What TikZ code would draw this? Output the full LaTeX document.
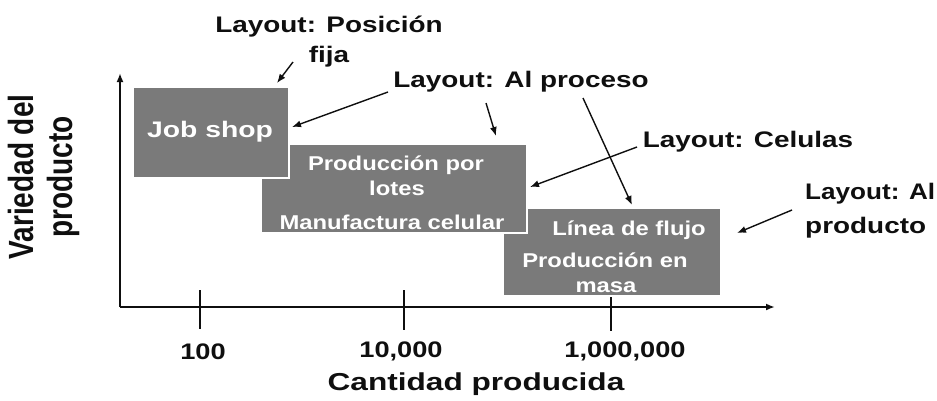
\documentclass[tikz,border=0pt]{standalone}
\usepackage{fontspec}
\setmainfont{Liberation Sans}
\usetikzlibrary{arrows.meta}
\newcommand{\hx}[2]{\scalebox{#1}[1]{#2}}
\definecolor{boxgray}{RGB}{122,122,122}
\definecolor{ink}{RGB}{15,15,15}
\begin{document}
\begin{tikzpicture}[x=1pt,y=-1pt,
  box/.style={draw=white, line width=1.5pt, fill=boxgray, inner sep=0pt},
  btxt/.style={text=white, inner sep=0pt, anchor=base, font=\fontsize{20}{24}\selectfont\bfseries},
  bigtxt/.style={text=white, inner sep=0pt, anchor=base, font=\fontsize{22.5}{26}\selectfont\bfseries},
  lbl/.style={text=ink, inner sep=0pt, anchor=base, font=\fontsize{22.5}{30}\selectfont\bfseries},
  ticklbl/.style={text=ink, inner sep=0pt, anchor=base, font=\fontsize{22.5}{26}\selectfont\bfseries},
  axis/.style={draw=ink, line width=1.8pt, -{Latex[length=9pt,width=7pt]}},
  tick/.style={draw=ink, line width=1.5pt},
  conn/.style={draw=ink, line width=1.4pt, -{Latex[length=9pt,width=7pt]}}]
\useasboundingbox (0,0) rectangle (937,400);

% axes
\coordinate (origin) at (120,307);
\coordinate (xend) at (775,307);
\coordinate (yend) at (120,73);
\coordinate (t1a) at (200,290); \coordinate (t1b) at (200,329);
\coordinate (t2a) at (404,290); \coordinate (t2b) at (404,330);
\coordinate (t3a) at (611,290); \coordinate (t3b) at (611,331);
\draw[tick] (t1a) -- (t1b);
\draw[tick] (t2a) -- (t2b);
\draw[tick] (t3a) -- (t3b);
\draw[axis] (origin) -- (xend);
\draw[axis] (origin) -- (yend);

% boxes
\node[box, minimum width=218pt, minimum height=88pt] (linea) at (612,252) {};
\node[box, minimum width=266pt, minimum height=89pt] (lotes) at (394,188.5) {};
\node[box, minimum width=156pt, minimum height=91pt] (job) at (211,132.5) {};

% box texts
\node[bigtxt] (tjob) at (210,137) {\hx{1.26}{Job shop}};
\node[btxt] (tprod1) at (396,170) {\hx{1.19}{Producción por}};
\node[btxt] (tlotes) at (397,195) {\hx{1.19}{lotes}};
\node[btxt] (tmanu) at (392,229) {\hx{1.19}{Manufactura celular}};
\node[btxt] (tlinea) at (629,235) {\hx{1.19}{Línea de flujo}};
\node[btxt] (tprod2) at (605,267) {\hx{1.19}{Producción en}};
\node[btxt] (tmasa) at (606,292) {\hx{1.19}{masa}};

% labels
\node[lbl] (lpos) at (329,32) {\hx{1.24}{\begin{tabular}[t]{@{}c@{}}Layout: Posición\\fija\end{tabular}}};
\node[lbl] (lproc) at (521,87) {\hx{1.24}{Layout: Al proceso}};
\node[lbl] (lcel) at (748,147) {\hx{1.24}{Layout: Celulas}};
\node[lbl, anchor=base west, font=\fontsize{22.5}{34}\selectfont\bfseries] (lprodu) at (805,199)
  {\begin{tabular}[t]{@{}l@{}}\hx{1.16}{Layout: Al}\\\hx{1.24}{producto}\end{tabular}};

% axis labels
\node[ticklbl] (n100) at (203,359) {\hx{1.21}{100}};
\node[ticklbl] (n10k) at (401,357) {\hx{1.21}{10,000}};
\node[ticklbl] (n1m) at (625,357) {\hx{1.21}{1,000,000}};
\node[lbl, font=\fontsize{24.5}{28}\selectfont\bfseries] (xlab) at (476,390) {\hx{1.29}{Cantidad producida}};
\node[text=ink, inner sep=0pt, rotate=90, font=\fontsize{28}{31}\selectfont\bfseries] (ylab) at (45,177)
  {\scalebox{1}[1.25]{\begin{tabular}{@{}c@{}}Variedad del\\producto\end{tabular}}};

% connectors
\coordinate (a1s) at (293,62);  \coordinate (a1e) at (277,83);
\coordinate (a2s) at (388,92);  \coordinate (a2e) at (292,127);
\coordinate (a3s) at (486,103); \coordinate (a3e) at (496,136);
\coordinate (a4s) at (583,98);  \coordinate (a4e) at (632,205);
\coordinate (a5s) at (637,147); \coordinate (a5e) at (530,187);
\coordinate (a6s) at (792,210); \coordinate (a6e) at (737,233);
\draw[conn] (a1s) -- (a1e);
\draw[conn] (a2s) -- (a2e);
\draw[conn] (a3s) -- (a3e);
\draw[conn] (a4s) -- (a4e);
\draw[conn] (a5s) -- (a5e);
\draw[conn] (a6s) -- (a6e);
\end{tikzpicture}
\end{document}
